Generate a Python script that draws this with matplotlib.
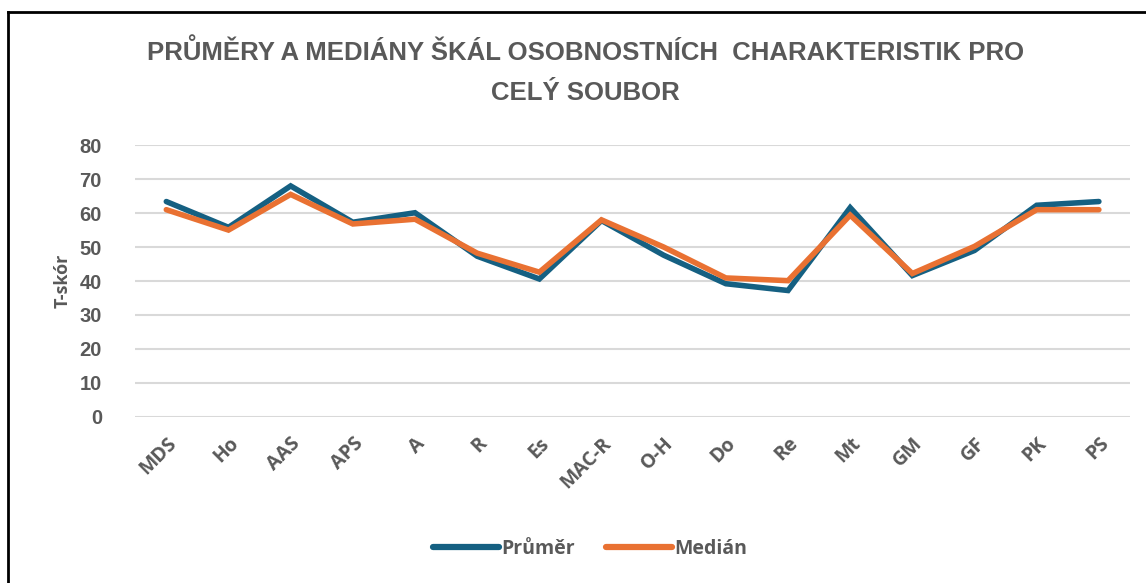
import matplotlib.pyplot as plt
from matplotlib.lines import Line2D

# Categories (scales) and values
scales = ['MDS', 'Ho', 'AAS', 'APS', 'A', 'R', 'Es', 'MAC-R', 'O-H', 'Do',
          'Re', 'Mt', 'GM', 'GF', 'PK', 'PS']
prumer = [63.4, 55.8, 68.0, 57.3, 60.1, 47.3, 40.6, 57.8, 47.6, 39.2,
          37.2, 61.6, 41.6, 49.0, 62.3, 63.4]
median = [61.0, 55.0, 65.5, 56.8, 58.2, 48.2, 42.6, 58.0, 50.0, 40.9,
          40.1, 59.4, 42.2, 50.2, 61.0, 61.0]
yticks = [0, 10, 20, 30, 40, 50, 60, 70, 80]

text_col = '#595959'
blue = '#156082'
orange = '#E97132'

plt.rcParams['font.family'] = ['Liberation Sans', 'DejaVu Sans']

fig = plt.figure(figsize=(11.46, 5.83), dpi=100)
ax = fig.add_axes([0.118, 0.285, 0.868, 0.466])

x = range(len(scales))
ax.plot(x, prumer, color=blue, linewidth=4, solid_capstyle='round',
        solid_joinstyle='miter', label='Průměr')
ax.plot(x, median, color=orange, linewidth=4, solid_capstyle='round',
        solid_joinstyle='miter', label='Medián')

ax.set_xlim(-0.5, len(scales) - 0.5)
ax.set_ylim(0, 80)
ax.set_yticks(yticks)
ax.set_xticks(list(x))
ax.set_xticklabels(scales, rotation=45, ha='right', rotation_mode='anchor')
ax.grid(axis='y', color='#D9D9D9', linewidth=1.5)
ax.set_axisbelow(True)
for s in ax.spines.values():
    s.set_visible(False)
ax.tick_params(axis='x', length=0, pad=12)
ax.tick_params(axis='y', length=0, pad=24)
for lab in ax.get_yticklabels():
    lab.set_fontsize(14.5)
    lab.set_fontweight('bold')
    lab.set_color(text_col)
for lab in ax.get_xticklabels():
    lab.set_fontsize(14)
    lab.set_fontweight('bold')
    lab.set_color(text_col)
    lab.set_family(['Open Sans', 'DejaVu Sans'])

ax.set_ylabel('T-skór', fontsize=13, fontweight='bold', color=text_col,
              labelpad=6, family=['Open Sans', 'DejaVu Sans'])

fig.text(0.511, 0.91, 'PRŮMĚRY A MEDIÁNY ŠKÁL OSOBNOSTNÍCH  CHARAKTERISTIK PRO',
         ha='center', va='center', fontsize=18.5, fontweight='bold',
         color=text_col, family=['Liberation Sans Narrow', 'Liberation Sans', 'DejaVu Sans'])
fig.text(0.511, 0.84, 'CELÝ SOUBOR',
         ha='center', va='center', fontsize=18.5, fontweight='bold',
         color=text_col, family=['Liberation Sans Narrow', 'Liberation Sans', 'DejaVu Sans'])

leg = fig.legend(loc='center', bbox_to_anchor=(0.515, 0.058), ncol=2, frameon=False,
                 handlelength=3.4, handletextpad=0.1, columnspacing=1.6,
                 prop={'family': ['Open Sans', 'DejaVu Sans'], 'weight': 'bold', 'size': 14},
                 labelcolor=text_col)
for h in leg.legend_handles:
    h.set_linewidth(4.5)

# frame of the original screenshot (top and left edges)
fig.add_artist(Line2D([0.007, 1.0], [0.979, 0.979], color='black', linewidth=2,
                      transform=fig.transFigure))
fig.add_artist(Line2D([0.007, 0.007], [0.0, 0.979], color='black', linewidth=2,
                      transform=fig.transFigure))

fig.savefig('out.png', dpi=100)
